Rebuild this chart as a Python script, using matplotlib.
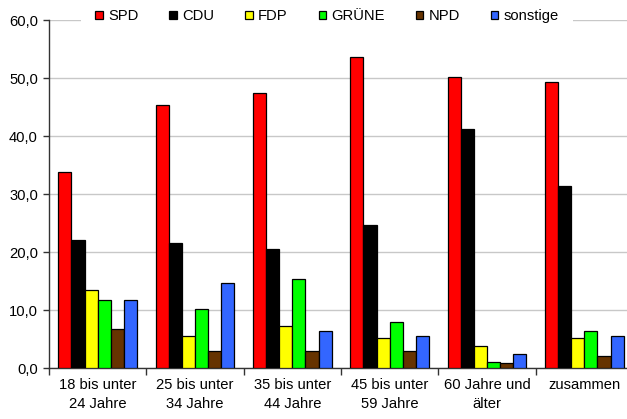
import matplotlib
matplotlib.use("Agg")
import matplotlib.pyplot as plt
import numpy as np

categories = ["18 bis unter\n24 Jahre", "25 bis unter\n34 Jahre", "35 bis unter\n44 Jahre",
              "45 bis unter\n59 Jahre", "60 Jahre und\nälter", "zusammen"]
parties = ["SPD", "CDU", "FDP", "GRÜNE", "NPD", "sonstige"]
spd = [33.9, 45.3, 47.5, 53.7, 50.2, 49.4]
cdu = [22.1, 21.6, 20.5, 24.6, 41.3, 31.4]
fdp = [13.5, 5.6, 7.3, 5.3, 3.8, 5.2]
gruene = [11.7, 10.2, 15.3, 7.9, 1.1, 6.4]
npd = [6.7, 2.9, 2.9, 3.0, 0.9, 2.2]
sonstige = [11.7, 14.7, 6.4, 5.6, 2.5, 5.6]
series = [spd, cdu, fdp, gruene, npd, sonstige]
colors = ["#FF0000", "#000000", "#FFFF00", "#00FF00", "#663300", "#3366FF"]
yticks = [0, 10, 20, 30, 40, 50, 60]

plt.rcParams['font.family'] = ['Liberation Sans', 'DejaVu Sans']
plt.rcParams['font.size'] = 10.6

W, H = 627, 419
fig = plt.figure(figsize=(W / 100, H / 100), dpi=100)
ax = fig.add_axes([49 / W, (H - 368.3) / H, (633 - 49) / W, 348.3 / H])

x = np.arange(len(categories))
bw = 0.135
n = len(series)
handles = []
for i, (vals, c, lab) in enumerate(zip(series, colors, parties)):
    off = (i - (n - 1) / 2) * bw
    b = ax.bar(x + off, vals, width=bw, color=c, edgecolor="#000000", linewidth=0.9,
               label=lab, zorder=3)
    handles.append(b)

ax.set_xlim(-0.5, len(categories) - 0.5)
ax.set_ylim(0, 60)
ax.set_yticks(yticks)
ax.set_yticklabels([f"{v:.1f}".replace(".", ",") for v in yticks])
ax.yaxis.grid(True, color="#c8c8c8", linewidth=1.0, zorder=0)
ax.set_axisbelow(True)

ax.set_xticks(np.arange(-0.5, len(categories), 1.0))
ax.set_xticklabels([])
ax.set_xticks(x, minor=True)
ax.set_xticklabels(categories, minor=True, linespacing=1.42)
ax.tick_params(axis="x", which="minor", length=0, pad=7)
ax.tick_params(axis="x", which="major", length=5, width=1, color="#333333", direction="out")
ax.tick_params(axis="y", length=4, width=1, color="#333333", pad=4)

for s in ["top", "right"]:
    ax.spines[s].set_visible(False)
for s in ["left", "bottom"]:
    ax.spines[s].set_color("#333333")
    ax.spines[s].set_linewidth(1.0)

leg = fig.legend(handles=handles, labels=parties, ncol=6, loc="center",
                 bbox_to_anchor=(327 / W, 1 - 16 / H), frameon=True, fancybox=False,
                 handlelength=0.5, handleheight=0.5, handletextpad=0.35,
                 columnspacing=2.12, borderpad=1.0, borderaxespad=0,
                 fontsize=10.6)
leg.get_frame().set_facecolor("white")
leg.get_frame().set_edgecolor("none")
leg.get_frame().set_alpha(1)

fig.savefig("out.png", dpi=100)
